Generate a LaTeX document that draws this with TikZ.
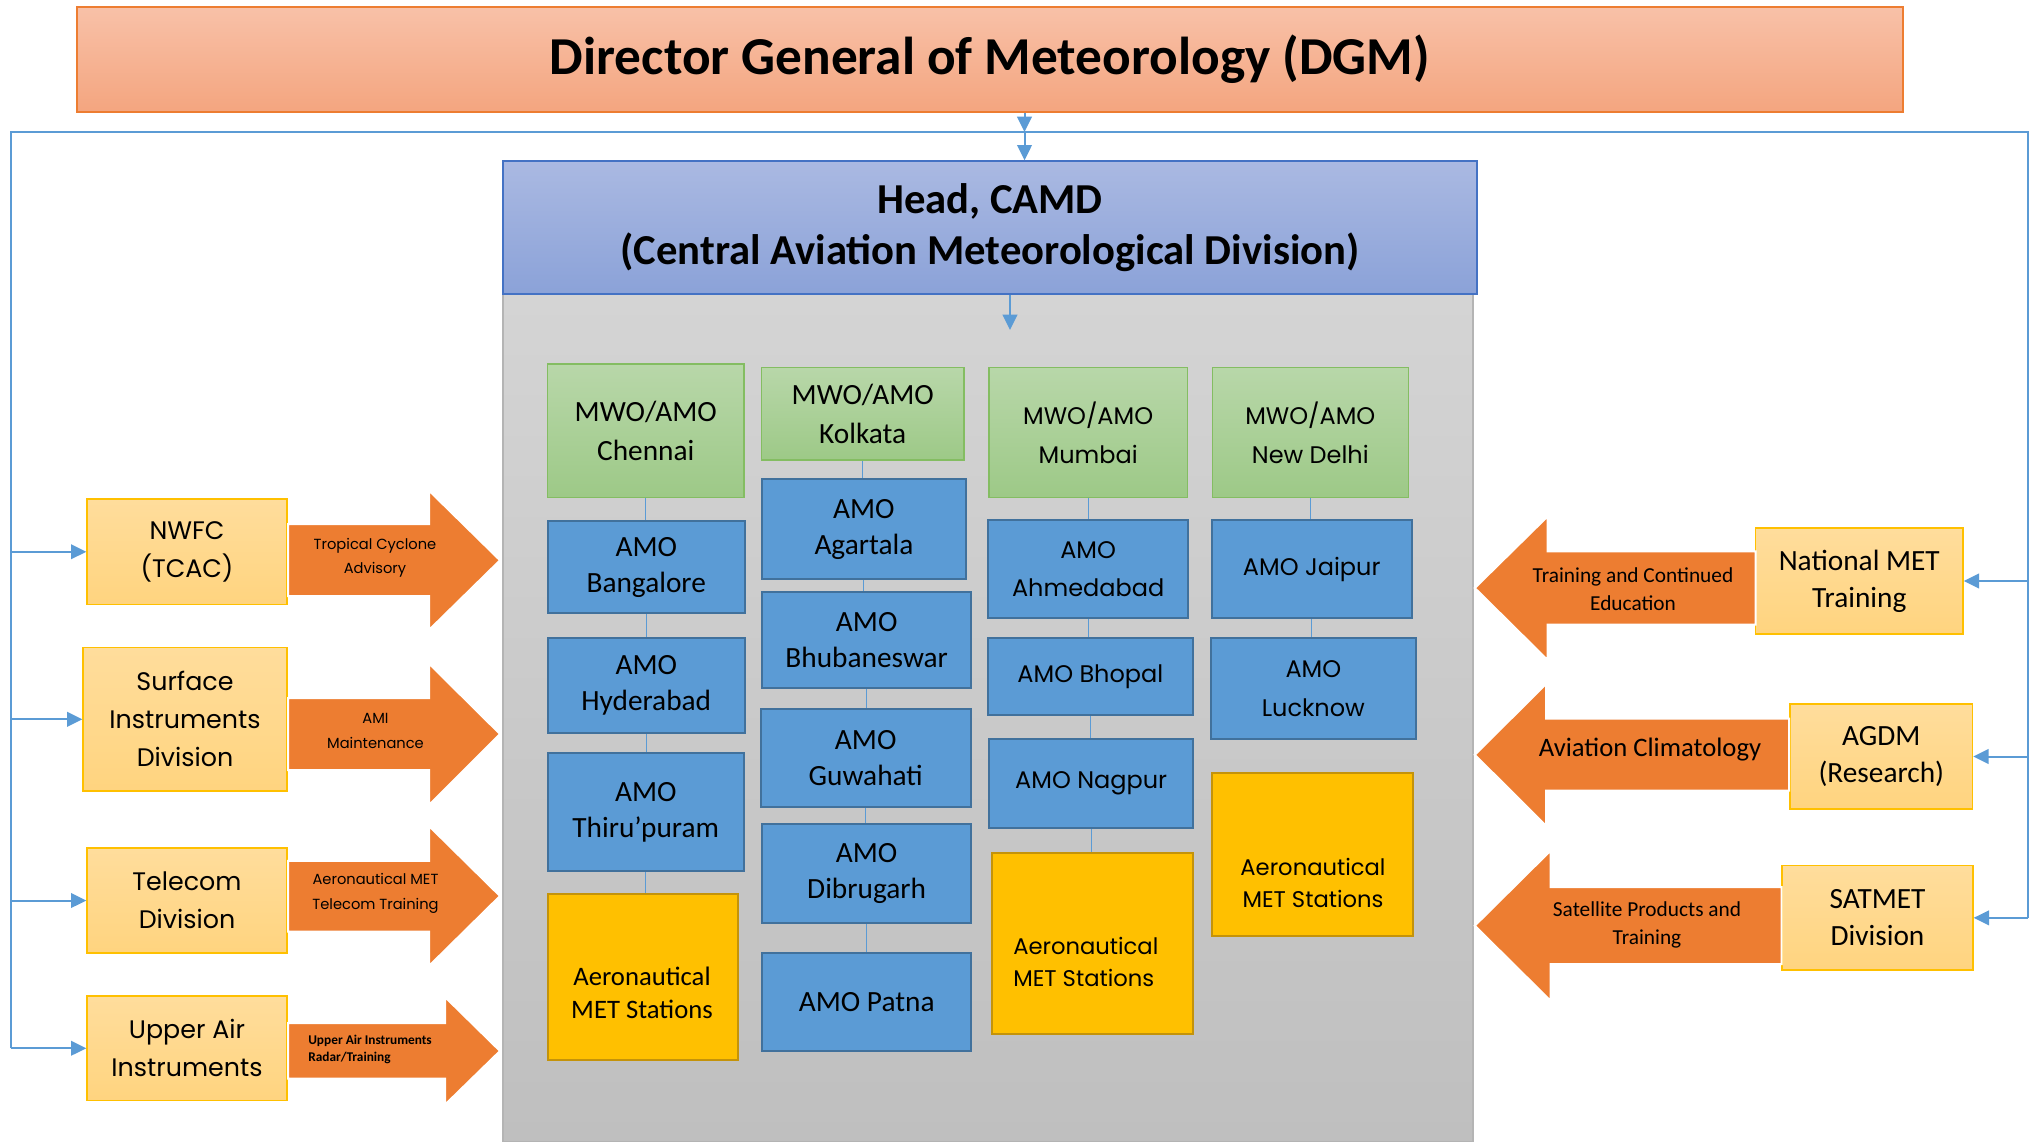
\documentclass[tikz,border=0pt]{standalone}
\usepackage{fontspec}
\setmainfont{Carlito}
\newfontfamily\gothic{Poppins}
\usetikzlibrary{arrows.meta}

\definecolor{wireblue}{HTML}{5B9BD5}
\definecolor{dgmtop}{HTML}{F8C1A8}
\definecolor{dgmbot}{HTML}{F4A57F}
\definecolor{dgmedge}{HTML}{ED7D31}
\definecolor{camdtop}{HTML}{AAB9E2}
\definecolor{camdbot}{HTML}{8BA2D8}
\definecolor{camdedge}{HTML}{4472C4}
\definecolor{paneltop}{HTML}{D4D4D4}
\definecolor{panelbot}{HTML}{BFBFBF}
\definecolor{paneledge}{HTML}{B4B4B4}
\definecolor{mwotop}{HTML}{B8D7A9}
\definecolor{mwobot}{HTML}{9DC987}
\definecolor{mwoedge}{HTML}{84BD62}
\definecolor{amofill}{HTML}{5B9BD5}
\definecolor{amoedge}{HTML}{41719C}
\definecolor{stnfill}{HTML}{FFC000}
\definecolor{stnedge}{HTML}{C4930A}
\definecolor{unittop}{HTML}{FFDD9C}
\definecolor{unitbot}{HTML}{FFD47F}
\definecolor{unitedge}{HTML}{FFC000}
\definecolor{arroworange}{HTML}{ED7D31}

\tikzset{
  boxat/.style n args={4}{at={({(#1+#3)/2},{(#2+#4)/2})}, minimum width={(#3-#1)*0.75pt}, minimum height={(#4-#2)*0.75pt}},
  wire/.style={draw=wireblue, line width=1.5pt},
  feed/.style={wire, -{Triangle[length=11.5pt,width=11pt]}},
  link/.style={draw=wireblue, line width=0.8pt},
  chartbox/.style={inner sep=0pt, align=center, line width=1pt},
  dgmbox/.style={chartbox, draw=dgmedge, top color=dgmtop, bottom color=dgmbot, font=\bfseries\fontsize{40}{48}\selectfont},
  camdbox/.style={chartbox, draw=camdedge, top color=camdtop, bottom color=camdbot, font=\bfseries\fontsize{32}{38}\selectfont},
  panelbox/.style={chartbox, draw=paneledge, top color=paneltop, bottom color=panelbot},
  mwobox/.style={chartbox, draw=mwoedge, top color=mwotop, bottom color=mwobot, font=\fontsize{22}{29}\selectfont},
  amobox/.style={chartbox, draw=amoedge, fill=amofill, line width=1.5pt, font=\fontsize{22}{27}\selectfont},
  stnbox/.style={chartbox, draw=stnedge, fill=stnfill, line width=1.5pt},
  unitbox/.style={chartbox, draw=unitedge, top color=unittop, bottom color=unitbot, font=\fontsize{22}{28}\selectfont},
  gothicbox/.style={font=\gothic\fontsize{18}{29}\selectfont},
  sidebox/.style={unitbox, font=\gothic\fontsize{19}{28.5}\selectfont},
  stnlabel/.style={inner sep=0pt, align=center, font=\fontsize{20}{25}\selectfont},
  bigarrow/.style={fill=arroworange, draw=white, line width=1.5pt},
  flowtext/.style={inner sep=0pt, align=center, font=\gothic\fontsize{11}{18.5}\selectfont},
  backtext/.style={inner sep=0pt, align=center, font=\fontsize{16}{21}\selectfont}
}

\begin{document}
\begin{tikzpicture}[x=0.75pt,y=-0.75pt]
  \useasboundingbox (0,0) rectangle (2038,1142);

  %grauer Hintergrund und Kopf
	\node[panelbox, boxat={503}{294}{1473}{1142}] (panel) {};
	\node[camdbox, boxat={503}{161}{1477}{294}] (camd) {Head, CAMD\\(Central Aviation Meteorological Division)};
	\node[dgmbox, boxat={77}{7}{1903}{112}] (dgm) {Director General of Meteorology (DGM)};

  %Verteiler-Linien
	\coordinate (trunkL) at (11,132);
	\coordinate (trunkR) at (2028,132);
	\coordinate (split) at (1024.5,132);
	\coordinate (drop) at (1010,330);
	\draw[feed] (split |- dgm.south) -- (split);
	\draw[feed] (split) -- (split |- camd.north);
	\draw[feed] (drop |- camd.south) -- (drop);

  %Spalte 1 - Chennai
	\node[mwobox, boxat={547.5}{364}{744}{497.7}] (chennai) {MWO/AMO\\Chennai};
	\node[amobox, boxat={547.5}{521}{745}{613}] (bangalore) {AMO\\Bangalore};
	\node[amobox, boxat={547.5}{638}{745}{733}] (hyderabad) {AMO\\Hyderabad};
	\node[amobox, boxat={547.5}{753}{744}{871}] (thiru) {AMO\\Thiru’puram};
	\node[stnbox, boxat={547.5}{893.7}{738}{1060}] (stnA) {};
	\node[stnlabel] (stnAtext) at (642,993) {Aeronautical\\MET Stations};
	\draw[link] (chennai.south) -- (chennai.south |- bangalore.north);
	\draw[link] (bangalore.south) -- (bangalore.south |- hyderabad.north);
	\draw[link] (hyderabad.south) -- (hyderabad.south |- thiru.north);
	\draw[link] (thiru.south) -- (thiru.south |- stnA.north);

  %Spalte 2 - Kolkata
	\node[mwobox, boxat={761.4}{367.7}{964}{460}] (kolkata) {MWO/AMO\\Kolkata};
	\node[amobox, boxat={761.8}{479.3}{966}{579.3}] (agartala) {AMO\\Agartala};
	\node[amobox, boxat={762}{592}{971.4}{688.3}] (bhubaneswar) {AMO\\Bhubaneswar};
	\node[amobox, boxat={760.7}{709.3}{970.7}{807.3}] (guwahati) {AMO\\Guwahati};
	\node[amobox, boxat={761.8}{824.3}{971.4}{923.3}] (dibrugarh) {AMO\\Dibrugarh};
	\node[amobox, boxat={762}{952.7}{971.4}{1051}] (patna) {AMO Patna};
	\draw[link] (kolkata.south) -- (kolkata.south |- agartala.north);
	\draw[link] (agartala.south) -- (agartala.south |- bhubaneswar.north);
	\draw[link] (bhubaneswar.south) -- (bhubaneswar.south |- guwahati.north);
	\draw[link] (guwahati.south) -- (guwahati.south |- dibrugarh.north);
	\draw[link] (dibrugarh.south) -- (dibrugarh.south |- patna.north);

  %Spalte 3 - Mumbai
	\node[mwobox, gothicbox, boxat={989}{367.5}{1187.3}{497.5}] (mumbai) {MWO/AMO\\Mumbai};
	\node[amobox, gothicbox, boxat={988}{520.4}{1188.3}{617.8}] (ahmedabad) {AMO\\Ahmedabad};
	\node[amobox, gothicbox, boxat={988}{638.4}{1192.7}{715}] (bhopal) {AMO Bhopal};
	\node[amobox, gothicbox, boxat={989}{738.5}{1193.3}{827.6}] (nagpur) {AMO Nagpur};
	\node[stnbox, boxat={991.7}{853.3}{1192.7}{1034.2}] (stnC) {};
	\node[stnlabel, align=left, anchor=west, font=\gothic\fontsize{17}{24}\selectfont] (stnCtext) at (1013,962) {Aeronautical\\MET Stations};
	\draw[link] (mumbai.south) -- (mumbai.south |- ahmedabad.north);
	\draw[link] (ahmedabad.south) -- (ahmedabad.south |- bhopal.north);
	\draw[link] (bhopal.south) -- (bhopal.south |- nagpur.north);
	\draw[link] (nagpur.south) -- (nagpur.south |- stnC.north);

  %Spalte 4 - New Delhi
	\node[mwobox, gothicbox, boxat={1212.3}{367.5}{1408.3}{497.5}] (newdelhi) {MWO/AMO\\New Delhi};
	\node[amobox, gothicbox, boxat={1211.7}{520.4}{1411.7}{617.8}] (jaipur) {AMO Jaipur};
	\node[amobox, gothicbox, boxat={1210.7}{638.4}{1416}{738.5}] (lucknow) {AMO\\Lucknow};
	\node[stnbox, boxat={1212}{773}{1412.7}{936}] (stnD) {};
	\node[stnlabel, font=\gothic\fontsize{17}{24}\selectfont] (stnDtext) at (1313,883) {Aeronautical\\MET Stations};
	\draw[link] (newdelhi.south) -- (newdelhi.south |- jaipur.north);
	\draw[link] (jaipur.south) -- (jaipur.south |- lucknow.north);

  %Einheiten links
	\node[sidebox, boxat={87}{499}{287}{604.5}] (nwfc) {NWFC\\(TCAC)};
	\node[sidebox, boxat={83}{647.6}{287}{791}] (surface) {Surface\\Instruments\\Division};
	\node[sidebox, boxat={87}{848}{287}{953}] (telecom) {Telecom\\Division};
	\node[sidebox, boxat={87}{996}{287}{1100.5}] (upperair) {Upper Air\\Instruments};

  %Einheiten rechts
	\node[unitbox, boxat={1755.6}{528}{1963}{634}] (natmet) {National MET\\Training};
	\node[unitbox, boxat={1790}{704}{1972.6}{809}] (agdm) {AGDM\\(Research)};
	\node[unitbox, boxat={1782}{865.7}{1973}{970}] (satmet) {SATMET\\Division};

  %Rahmenlinie mit Pfeilen
	\draw[wire] (trunkL |- upperair.west) -- (trunkL) -- (trunkR) -- (trunkR |- satmet.east);
	\draw[feed] (trunkL |- nwfc.west) -- (nwfc.west);
	\draw[feed] (trunkL |- surface.west) -- (surface.west);
	\draw[feed] (trunkL |- telecom.west) -- (telecom.west);
	\draw[feed] (trunkL |- upperair.west) -- (upperair.west);
	\draw[feed] (trunkR |- natmet.east) -- (natmet.east);
	\draw[feed] (trunkR |- agdm.east) -- (agdm.east);
	\draw[feed] (trunkR |- satmet.east) -- (satmet.east);

  %Blockpfeile links
	\filldraw[bigarrow] (288,524) -- (429,524) -- (429,490.6) -- (500,560.3) -- (429,630) -- (429,596) -- (288,596) -- cycle;
	\node[flowtext] (tcadv) at (375,557.7) {Tropical Cyclone\\Advisory};
	\filldraw[bigarrow] (288,698) -- (429,698) -- (429,663.6) -- (500,734) -- (429,805) -- (429,770) -- (288,770) -- cycle;
	\node[flowtext] (amimaint) at (375.5,731) {AMI\\Maintenance};
	\filldraw[bigarrow] (288,860.8) -- (429,860.8) -- (429,826) -- (500,896) -- (429,966) -- (429,931.7) -- (288,931.7) -- cycle;
	\node[flowtext] (telectrain) at (375.5,893.7) {Aeronautical MET\\Telecom Training};
	\filldraw[bigarrow] (288,1023) -- (445,1023) -- (445,997) -- (500,1051) -- (445,1104.7) -- (445,1078.6) -- (288,1078.6) -- cycle;
	\node[flowtext, align=left, anchor=west, font=\bfseries\fontsize{10}{12.75}\selectfont] (radartrain) at (308,1049.5) {Upper Air Instruments\\Radar/Training};

  %Blockpfeile rechts
	\filldraw[bigarrow] (1755.6,551.4) -- (1547.6,551.4) -- (1547.6,516.4) -- (1474.8,588) -- (1547.6,660) -- (1547.6,624.6) -- (1755.6,624.6) -- cycle;
	\node[backtext] (contedu) at (1633,588.8) {Training and Continued\\Education};
	\filldraw[bigarrow] (1789,718.6) -- (1546,718.6) -- (1546,684) -- (1474.8,754.8) -- (1546,825.7) -- (1546,790.7) -- (1789,790.7) -- cycle;
	\node[backtext, font=\fontsize{20}{24}\selectfont] (avclim) at (1650,750) {Aviation Climatology};
	\filldraw[bigarrow] (1781.5,887) -- (1550.5,887) -- (1550.5,850.7) -- (1474.8,925.7) -- (1550.5,1000.7) -- (1550.5,964) -- (1781.5,964) -- cycle;
	\node[backtext] (satprod) at (1647,924.5) {Satellite Products and\\Training};
\end{tikzpicture}
\end{document}
